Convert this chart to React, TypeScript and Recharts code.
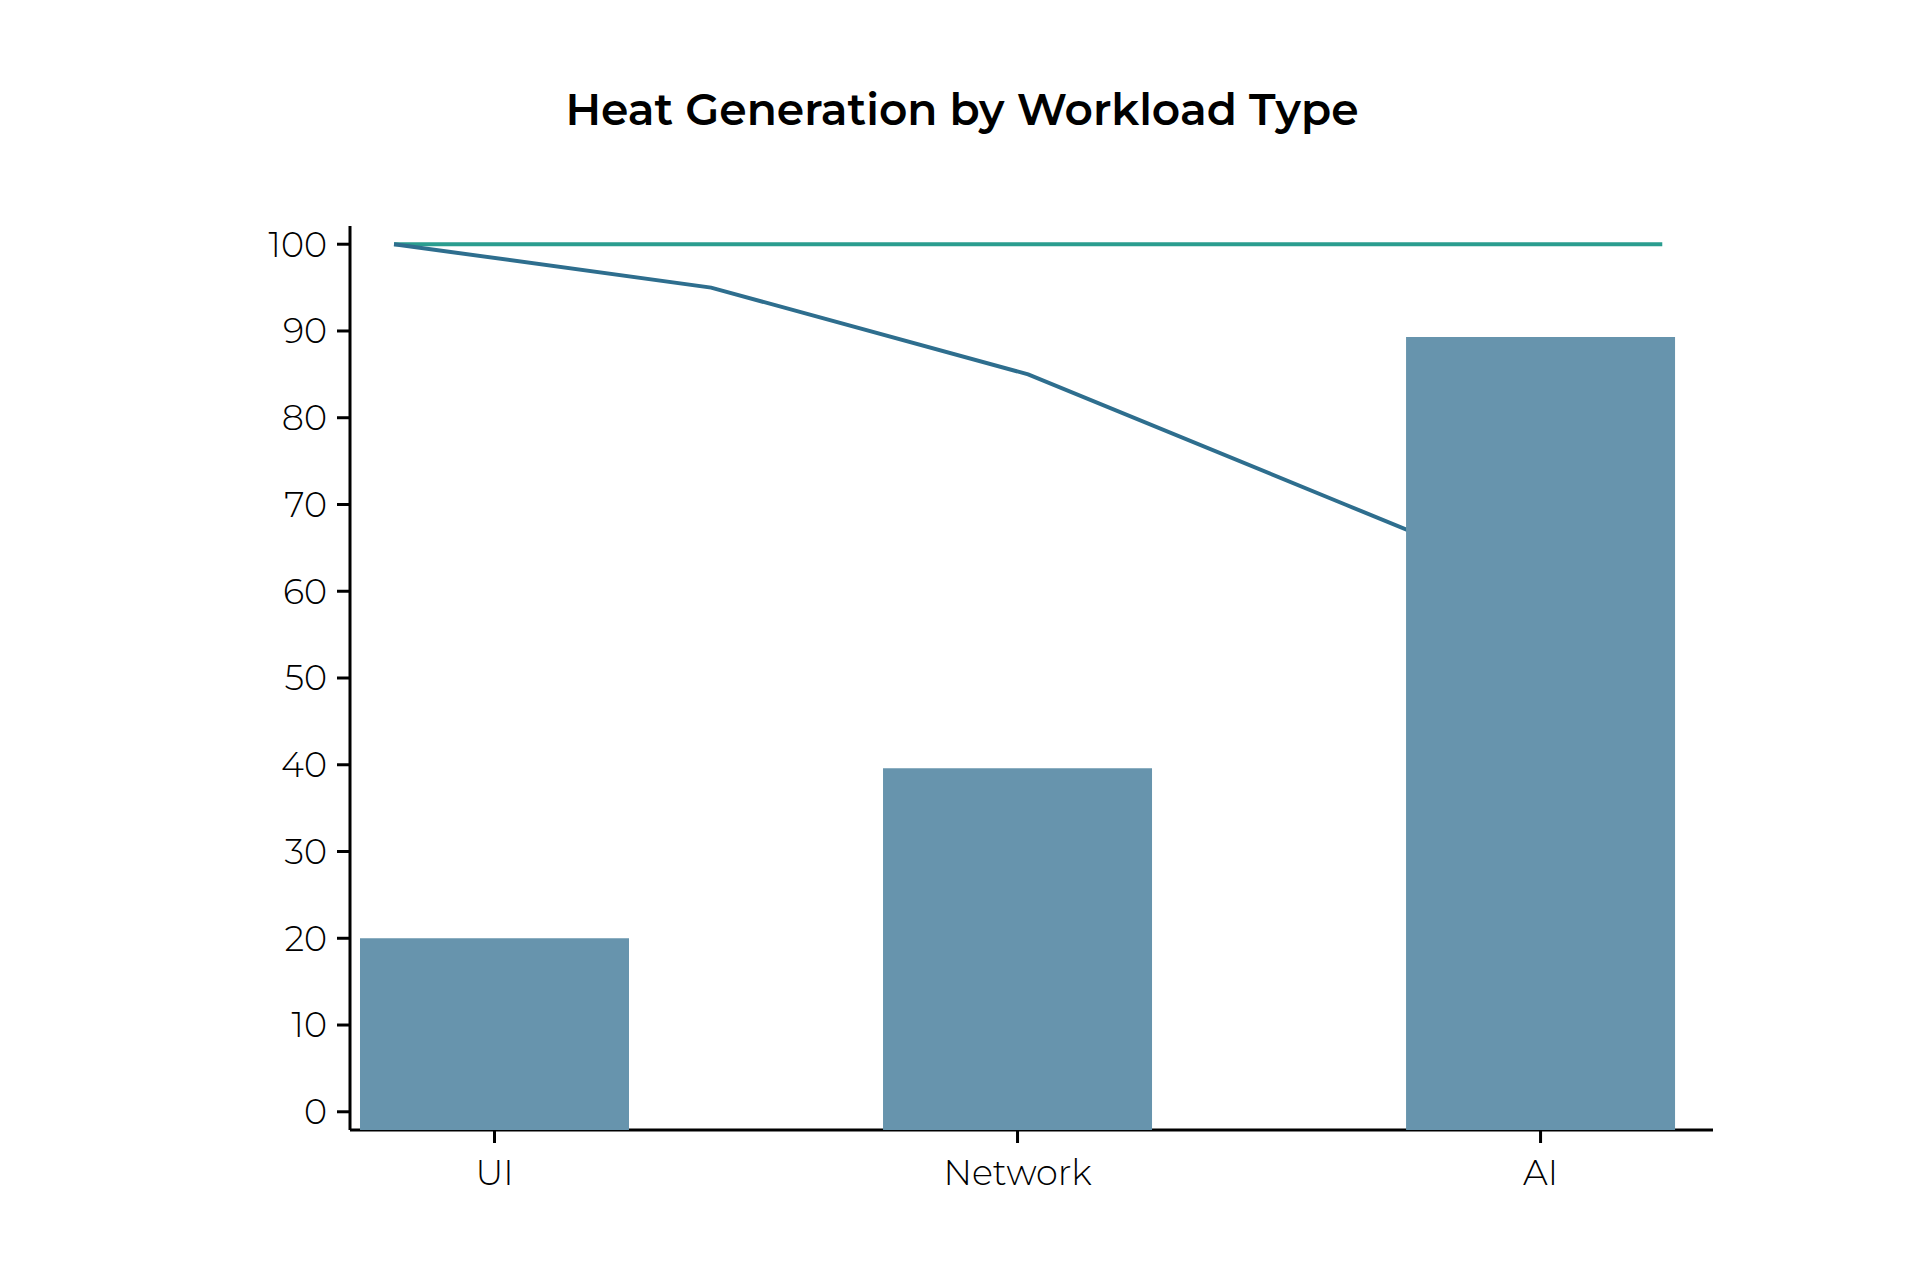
import React from "react";
import { ComposedChart, Bar, Line, XAxis, YAxis } from "recharts";

const categories = ["UI", "Network", "AI"];
const heatValues = [20, 39.6, 89.3];
const steps = [0, 1, 2, 3, 4];
const capacityValues = [100, 100, 100, 100, 100];
const performanceValues = [100, 95, 85, 70, 55];
const yTicks = [0, 10, 20, 30, 40, 50, 60, 70, 80, 90, 100];

const Y_MIN = -2.1;
const Y_MAX = 102.1;

const barData = categories.map((c, i) => ({ category: c, idx: i, heat: heatValues[i] }));
const lineData = steps.map((s, i) => ({ step: s, capacity: capacityValues[i], performance: performanceValues[i] }));

const FONT = "Montserrat, 'Open Sans', sans-serif";

export default function App() {
  return (
    <div style={{ position: "absolute", left: 0, top: 0, width: 1921, height: 1280, background: "#fff" }}>
      <svg width={1921} height={160} style={{ position: "absolute", left: 0, top: 0 }}>
        <text x={962} y={125} textAnchor="middle" fontFamily={FONT} fontWeight={600} fontSize={44} fill="#000">
          Heat Generation by Workload Type
        </text>
      </svg>
      <div style={{ position: "absolute", left: 0, top: 0 }}>
        <ComposedChart
          width={1921}
          height={1280}
          data={barData}
          margin={{ top: 226, right: 208, bottom: 90, left: 250 }}
        >
          <XAxis
            xAxisId="cat"
            type="number"
            dataKey="idx"
            domain={[-0.2763, 2.3297]}
            allowDataOverflow
            ticks={[0, 1, 2]}
            tickFormatter={(v: number) => categories[v]}
            height={60}
            tickSize={13}
            tickMargin={17}
            stroke="#000"
            strokeWidth={3}
            tick={{ fill: "#000", fontSize: 35, fontFamily: FONT, fontWeight: 300 }}
            tickLine={{ stroke: "#000", strokeWidth: 3 }}
          />
          <XAxis
            xAxisId="line"
            type="number"
            dataKey="step"
            domain={[-0.1388, 4.16]}
            allowDataOverflow
            hide
          />
          <YAxis
            type="number"
            domain={[Y_MIN, Y_MAX]}
            allowDataOverflow
            ticks={yTicks}
            width={100}
            tickSize={13}
            tickMargin={10}
            stroke="#000"
            strokeWidth={3}
            tick={{ fill: "#000", fontSize: 35, fontFamily: FONT, fontWeight: 300 }}
            tickLine={{ stroke: "#000", strokeWidth: 3 }}
          />
          <Line
            xAxisId="line"
            data={lineData}
            dataKey="capacity"
            stroke="#2A9D8F"
            strokeWidth={4}
            dot={false}
            activeDot={false}
            isAnimationActive={false}
            zIndex={200}
          />
          <Line
            xAxisId="line"
            data={lineData}
            dataKey="performance"
            stroke="#2E6E8E"
            strokeWidth={4}
            dot={false}
            activeDot={false}
            isAnimationActive={false}
            zIndex={200}
          />
          <Bar
            xAxisId="cat"
            dataKey={(d: any) => [Y_MIN, d.heat]}
            fill="#6794AD"
            barSize={269}
            isAnimationActive={false}
            zIndex={600}
          />
        </ComposedChart>
      </div>
    </div>
  );
}
